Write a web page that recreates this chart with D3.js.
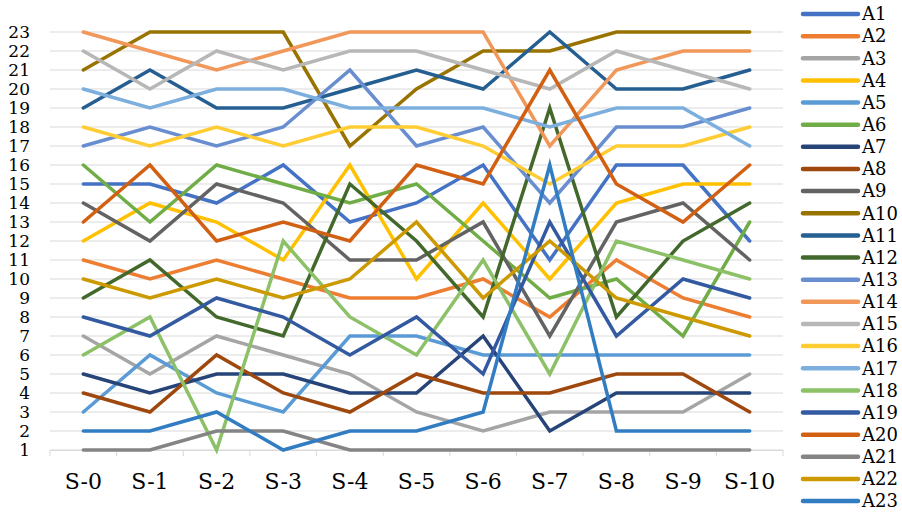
<!DOCTYPE html>
<html>
<head>
<meta charset="utf-8">
<script src="https://cdn.jsdelivr.net/npm/d3@7"></script>
<style>
  body { margin: 0; background: #fff; }
</style>
</head>
<body>
<div id="chart"></div>
<script>
// categories and y ticks
const stages = ["S-0", "S-1", "S-2", "S-3", "S-4", "S-5", "S-6", "S-7", "S-8", "S-9", "S-10"];
const yTicks = d3.range(1, 24);

// rank of each series per stage
const A1  = [15, 15, 14, 16, 13, 14, 16, 11, 16, 16, 12];
const A2  = [11, 10, 11, 10, 9, 9, 10, 8, 11, 9, 8];
const A3  = [7, 5, 7, 6, 5, 3, 2, 3, 3, 3, 5];
const A4  = [12, 14, 13, 11, 16, 10, 14, 10, 14, 15, 15];
const A5  = [3, 6, 4, 3, 7, 7, 6, 6, 6, 6, 6];
const A6  = [16, 13, 16, 15, 14, 15, 12, 9, 10, 7, 13];
const A7  = [5, 4, 5, 5, 4, 4, 7, 2, 4, 4, 4];
const A8  = [4, 3, 6, 4, 3, 5, 4, 4, 5, 5, 3];
const A9  = [14, 12, 15, 14, 11, 11, 13, 7, 13, 14, 11];
const A10 = [21, 23, 23, 23, 17, 20, 22, 22, 23, 23, 23];
const A11 = [19, 21, 19, 19, 20, 21, 20, 23, 20, 20, 21];
const A12 = [9, 11, 8, 7, 15, 12, 8, 19, 8, 12, 14];
const A13 = [17, 18, 17, 18, 21, 17, 18, 14, 18, 18, 19];
const A14 = [23, 22, 21, 22, 23, 23, 23, 17, 21, 22, 22];
const A15 = [22, 20, 22, 21, 22, 22, 21, 20, 22, 21, 20];
const A16 = [18, 17, 18, 17, 18, 18, 17, 15, 17, 17, 18];
const A17 = [20, 19, 20, 20, 19, 19, 19, 18, 19, 19, 17];
const A18 = [6, 8, 1, 12, 8, 6, 11, 5, 12, 11, 10];
const A19 = [8, 7, 9, 8, 6, 8, 5, 13, 7, 10, 9];
const A20 = [13, 16, 12, 13, 12, 16, 15, 21, 15, 13, 16];
const A21 = [1, 1, 2, 2, 1, 1, 1, 1, 1, 1, 1];
const A22 = [10, 9, 10, 9, 10, 13, 9, 12, 9, 8, 7];
const A23 = [2, 2, 3, 1, 2, 2, 3, 16, 2, 2, 2];

const seriesNames = ["A1","A2","A3","A4","A5","A6","A7","A8","A9","A10","A11","A12",
                     "A13","A14","A15","A16","A17","A18","A19","A20","A21","A22","A23"];
const seriesValues = [A1,A2,A3,A4,A5,A6,A7,A8,A9,A10,A11,A12,A13,A14,A15,A16,A17,A18,A19,A20,A21,A22,A23];
const seriesColors = ["#4472C4","#ED7D31","#A5A5A5","#FFC000","#5B9BD5","#70AD47",
                      "#264478","#9E480E","#636363","#997300","#255E91","#43682B",
                      "#698ED0","#F1975A","#B7B7B7","#FFCD33","#7CAFDD","#8CC168",
                      "#335AA1","#D26012","#848484","#CC9A00","#327DC2"];

const W = 902, H = 515;
const plot = { left: 50, right: 783, top: 32, bottom: 450 };
const serif = "DejaVu Serif";

const svg = d3.select("#chart").append("svg")
  .attr("width", W).attr("height", H)
  .attr("font-family", serif);

const x = d3.scaleBand().domain(stages).range([plot.left, plot.right]);
const y = d3.scaleLinear().domain([1, 23]).range([plot.bottom, plot.top]);

// gridlines
svg.append("g")
  .selectAll("line")
  .data(yTicks)
  .join("line")
  .attr("x1", plot.left).attr("x2", plot.right)
  .attr("y1", d => y(d)).attr("y2", d => y(d))
  .attr("stroke", "#D9D9D9").attr("stroke-width", 1);

// y axis labels
const yAxis = svg.append("g")
  .attr("transform", `translate(${plot.left},0)`)
  .call(d3.axisLeft(y).tickValues(yTicks).tickSize(0).tickPadding(20).tickFormat(d3.format("d")))
  .attr("font-family", serif);
yAxis.select(".domain").remove();
yAxis.selectAll("text")
  .attr("font-size", 17).attr("fill", "#000");

// x axis
const xAxis = svg.append("g")
  .attr("transform", `translate(0,${plot.bottom})`)
  .call(d3.axisBottom(x).tickSize(0))
  .attr("font-family", serif);
xAxis.select(".domain").attr("stroke", "#D9D9D9");
xAxis.selectAll("text")
  .attr("y", 39).attr("dy", 0)
  .attr("font-size", 22).attr("fill", "#000");
// tick marks between categories
svg.append("g")
  .selectAll("line")
  .data(stages.concat(["end"]))
  .join("line")
  .attr("x1", (d, i) => plot.left + i * x.step())
  .attr("x2", (d, i) => plot.left + i * x.step())
  .attr("y1", plot.bottom).attr("y2", plot.bottom + 6)
  .attr("stroke", "#D9D9D9");

// lines
const line = d3.line()
  .x((d, i) => x(stages[i]) + x.bandwidth() / 2)
  .y(d => y(d));

svg.append("g")
  .selectAll("path")
  .data(seriesValues)
  .join("path")
  .attr("d", d => line(d))
  .attr("fill", "none")
  .attr("stroke", (d, i) => seriesColors[i])
  .attr("stroke-width", 3.5)
  .attr("stroke-linecap", "round")
  .attr("stroke-linejoin", "miter");

// legend
const legend = svg.append("g")
  .selectAll("g")
  .data(seriesNames)
  .join("g")
  .attr("transform", (d, i) => `translate(803,${14 + i * 22.14})`);

legend.append("line")
  .attr("x1", 0).attr("x2", 55)
  .attr("stroke", (d, i) => seriesColors[i])
  .attr("stroke-width", 4.5)
  .attr("stroke-linecap", "round");

legend.append("text")
  .attr("x", 59).attr("dy", "0.35em")
  .attr("font-size", 18)
  .text(d => d);
</script>
</body>
</html>
